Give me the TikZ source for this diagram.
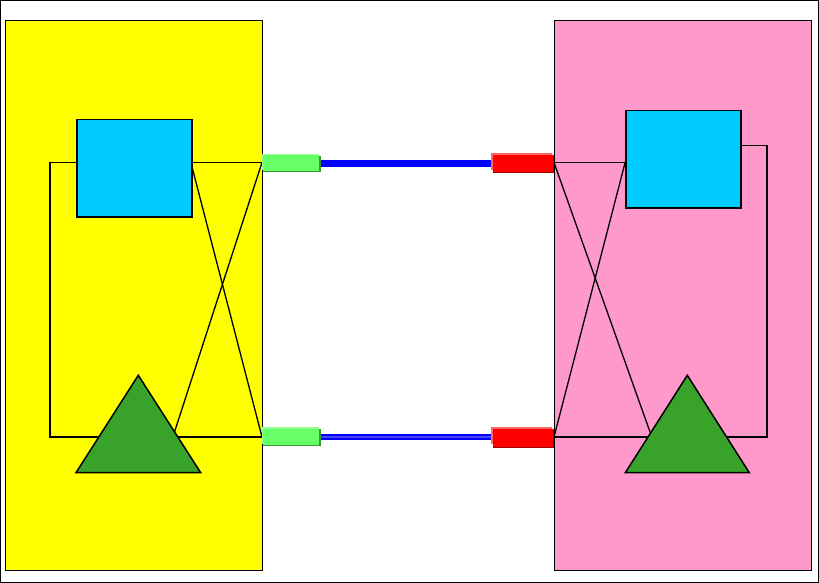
\documentclass[tikz,border=0pt]{standalone}
\usetikzlibrary{calc}
\definecolor{yel}{HTML}{FFFF00}
\definecolor{pinkp}{HTML}{FF99CC}
\definecolor{cyanb}{HTML}{00CCFF}
\definecolor{trig}{HTML}{38A22B}
\definecolor{gbox}{HTML}{66FF66}
\definecolor{gshadow}{HTML}{339933}
\definecolor{ghigh}{HTML}{99FF99}
\definecolor{rbox}{HTML}{FF0000}
\definecolor{rshadow}{HTML}{AA0000}
\definecolor{rhigh}{HTML}{FF6666}
\definecolor{blueline}{HTML}{0000FF}
\definecolor{bluelight}{HTML}{4444FF}
\begin{document}
\begin{tikzpicture}[x=1pt,y=-1pt,
  panel/.style={draw=black,line width=1pt},
  sq/.style={draw=black,fill=cyanb,line width=1.5pt},
  tri/.style={draw=black,fill=trig,line width=1.5pt,line join=miter},
  wire/.style={draw=black,line width=1.7pt},
  thinwire/.style={draw=black,line width=1.3pt}]
\useasboundingbox (0,0) rectangle (819,583);
\draw[line width=1.2pt] (0.6,0.6) rectangle (818.4,582.4);
% panels
\fill[yel] (5,21) rectangle (262,570);
\draw[panel] (5,21) rectangle (262,570);
\fill[pinkp] (554,21) rectangle (811,570);
\draw[panel] (554,21) rectangle (811,570);
% named coordinates
\coordinate (LU) at (262,162.5);
\coordinate (LD) at (262,437);
\coordinate (RU) at (554,162.5);
\coordinate (RD) at (554,437);
% left wiring
\draw[wire] (76,162.5) -- (50,162.5) -- (50,437) -- (LD);
\draw[wire] (191,162.5) -- (LU);
\draw[thinwire] (191,163) -- (LD);
\draw[thinwire] (LU) -- (168,452);
% right wiring
\draw[wire] (RU) -- (625,162.5);
\draw[thinwire] (625,163) -- (RD);
\draw[thinwire] (RU) -- (660,460);
\draw[thinwire] (740,145.5) -- (767,145.5) -- (767,437) -- (RD);
% squares
\node[sq,minimum width=115pt,minimum height=97pt,inner sep=0pt,anchor=north west] (sqL) at (76,119) {};
\node[sq,minimum width=115pt,minimum height=97pt,inner sep=0pt,anchor=north west] (sqR) at (625,110) {};
% triangles
\draw[tri] (138.3,375.3) -- (200.7,472.7) -- (76,472.7) -- cycle;
\draw[tri] (687.3,375.3) -- (749.3,472.7) -- (625.3,472.7) -- cycle;
% links
\draw[blueline,line width=6.5pt] (319,163.5) -- (491,163.5);
\draw[blueline,line width=6pt] (319,437) -- (491,437);
\draw[bluelight,line width=1.2pt] (319,437) -- (491,437);
% green boxes
\fill[gshadow] (263,155.5) rectangle (320.5,172);
\fill[ghigh] (261.7,153.5) rectangle (318.5,170);
\fill[gbox] (262.5,154.5) rectangle (319.2,171);
\fill[gshadow] (263,429) rectangle (320.5,446);
\fill[ghigh] (261.7,427.2) rectangle (318.5,444);
\fill[gbox] (262.5,429) rectangle (319.2,445);
% red boxes
\fill[rshadow] (492.5,155) rectangle (554,172.5);
\fill[rhigh] (491,153.2) rectangle (552,170);
\fill[rbox] (492.5,154.5) rectangle (553.3,171.5);
\fill[rshadow] (492.5,429) rectangle (554,447.5);
\fill[rhigh] (491,426.7) rectangle (552,444);
\fill[rbox] (492.5,428.5) rectangle (553.3,446.5);
\end{tikzpicture}
\end{document}
